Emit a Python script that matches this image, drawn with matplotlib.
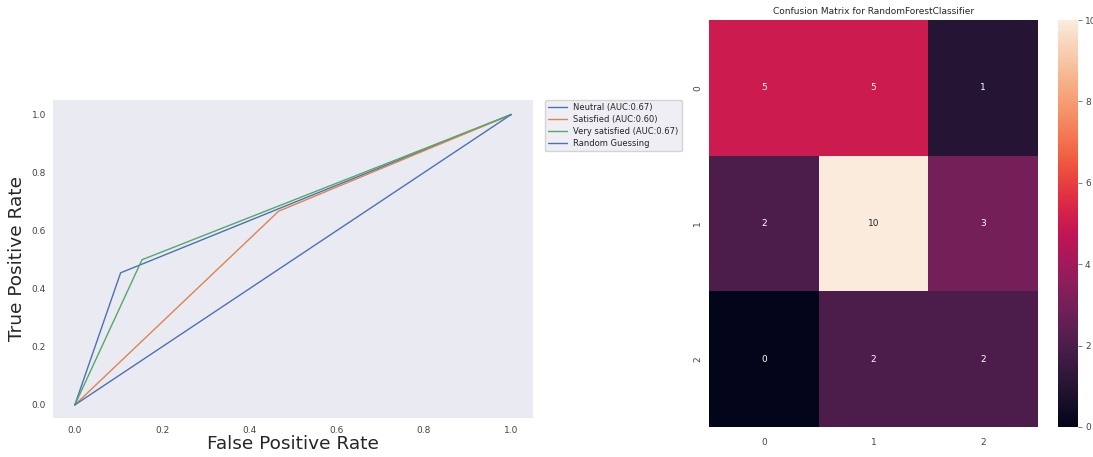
import numpy as np
import matplotlib
matplotlib.use("Agg")
import matplotlib.pyplot as plt
import seaborn as sns

# ROC data
neutral_fpr = [0.0, 0.105, 1.0]
neutral_tpr = [0.0, 0.455, 1.0]
satisfied_fpr = [0.0, 0.467, 1.0]
satisfied_tpr = [0.0, 0.667, 1.0]
very_fpr = [0.0, 0.154, 1.0]
very_tpr = [0.0, 0.5, 1.0]
random_x = [0.0, 1.0]
random_y = [0.0, 1.0]
roc_labels = ["Neutral (AUC:0.67)", "Satisfied (AUC:0.60)",
              "Very satisfied (AUC:0.67)", "Random Guessing"]

# Confusion matrix
cm = np.array([[5, 5, 1],
               [2, 10, 3],
               [0, 2, 2]])
cm_title = "Confusion Matrix for RandomForestClassifier"

sns.set_theme(style="dark")
plt.rcParams['font.family'] = ['DejaVu Sans']

W, H = 1093, 457
fig = plt.figure(figsize=(W / 100, H / 100), dpi=100)

def rect(x0, y0, x1, y1):
    return [x0 / W, 1 - y1 / H, (x1 - x0) / W, (y1 - y0) / H]

# Left ROC axes
ax = fig.add_axes(rect(53, 100, 533, 418))
pal = sns.color_palette("deep")
ax.plot(neutral_fpr, neutral_tpr, color=pal[0], lw=1, label=roc_labels[0])
ax.plot(satisfied_fpr, satisfied_tpr, color=pal[1], lw=1, label=roc_labels[1])
ax.plot(very_fpr, very_tpr, color=pal[2], lw=1, label=roc_labels[2])
ax.plot(random_x, random_y, color="#4c72b0", lw=1, label=roc_labels[3])
ax.set_xlim(-0.05, 1.05)
ax.set_ylim(-0.045, 1.05)
ax.set_xticks([0, 0.2, 0.4, 0.6, 0.8, 1.0])
ax.set_yticks([0, 0.2, 0.4, 0.6, 0.8, 1.0])
ax.tick_params(axis="x", labelsize=6.5, labelcolor="#444444", length=0, pad=6)
ax.tick_params(axis="y", labelsize=6.5, labelcolor="#444444", length=0, pad=5)
ax.set_xlabel("False Positive Rate", fontsize=13.3, color="#262626", labelpad=0)
ax.set_ylabel("True Positive Rate", fontsize=13.3, color="#262626", labelpad=4)
for s in ax.spines.values():
    s.set_visible(False)
leg = ax.legend(loc="upper left", bbox_to_anchor=(1.025, 1.0), fontsize=6,
                frameon=True, borderaxespad=0, handlelength=2.2,
                labelspacing=0.35)

# Right heatmap
hax = fig.add_axes(rect(709, 20, 1038, 427))
cax = fig.add_axes(rect(1058, 20, 1078, 427))
sns.heatmap(cm, annot=True, fmt="d", ax=hax, cbar_ax=cax, cmap="rocket",
            vmin=0, vmax=10, annot_kws={"fontsize": 6.5})
hax.set_title(cm_title, fontsize=6.5, color="#262626", pad=4)
hax.tick_params(axis="x", labelsize=6.5, labelcolor="#444444", length=0, pad=8)
hax.tick_params(axis="y", labelsize=6.5, labelcolor="#444444", length=0, pad=5)
hax.set_yticklabels(hax.get_yticklabels(), rotation=90, va="center")
cax.tick_params(labelsize=6.5, labelcolor="#444444", length=3, width=0.6,
                color="#666666", pad=2)
cax.set_yticks([0, 2, 4, 6, 8, 10])

fig.savefig("out.png", dpi=100)
